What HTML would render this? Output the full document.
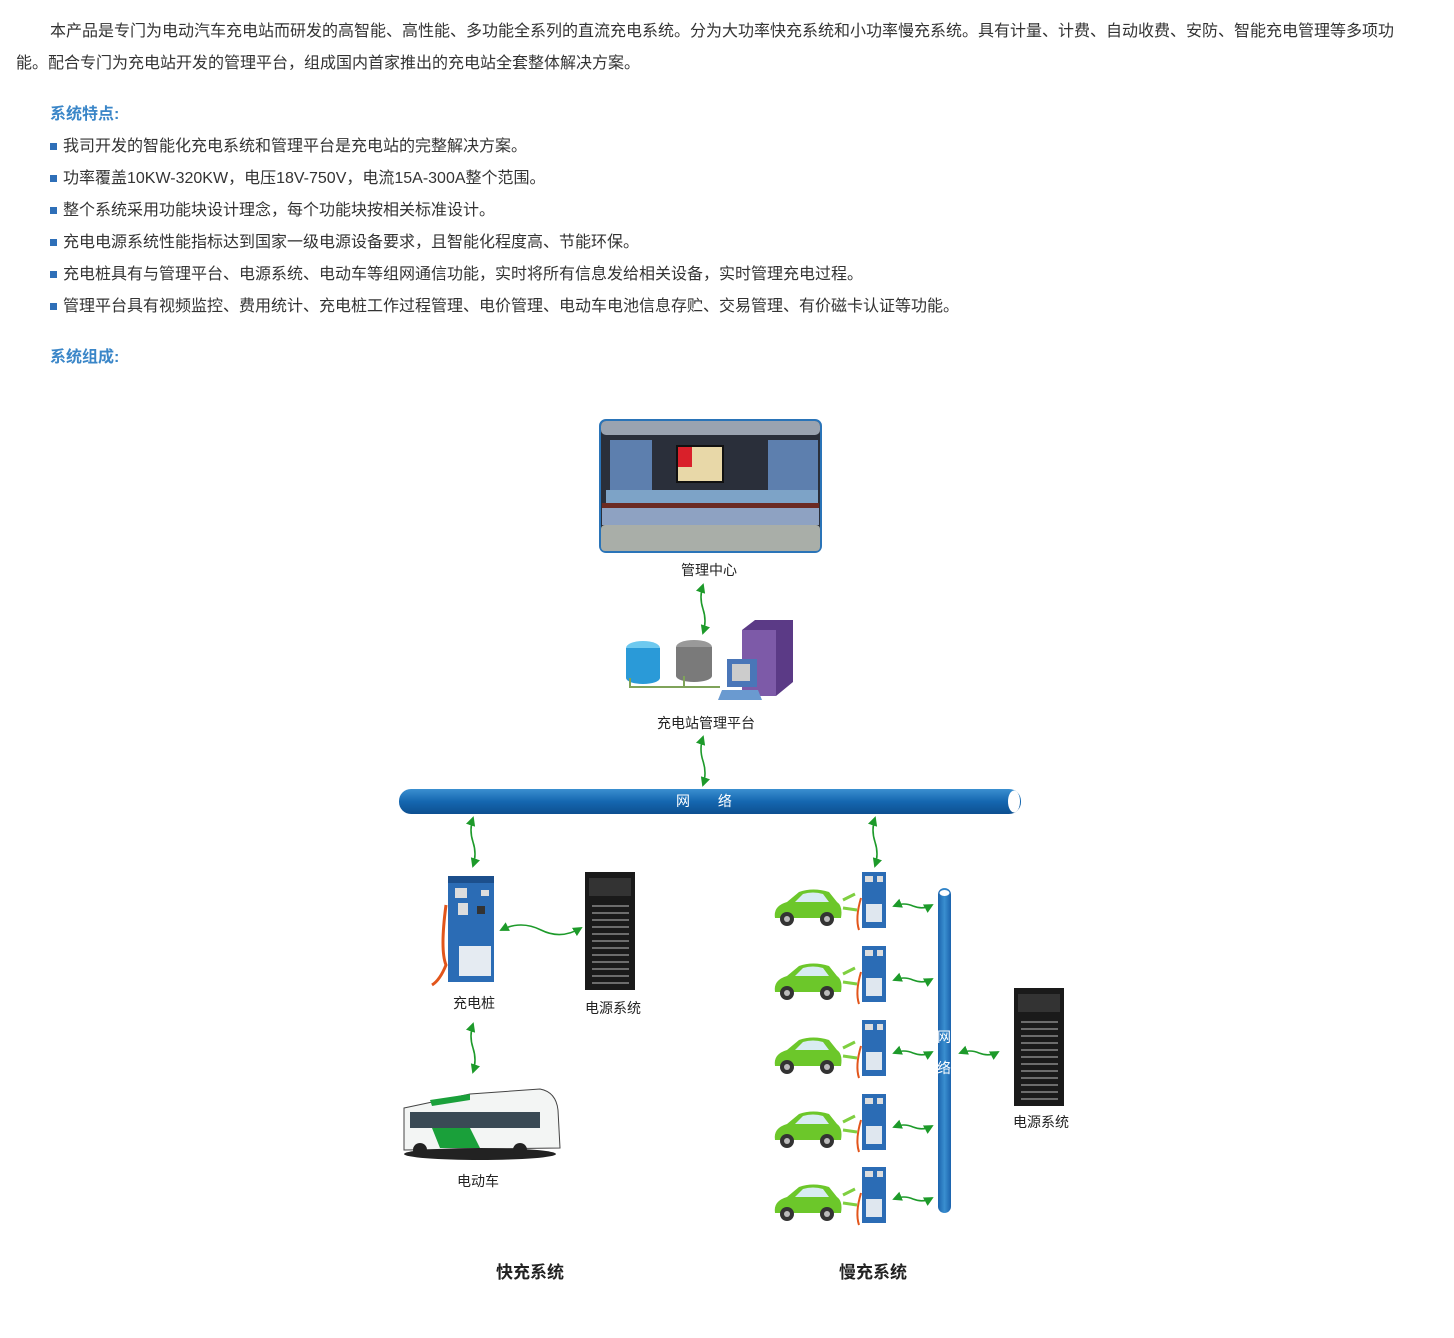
<!DOCTYPE html>
<html><head><meta charset="utf-8"><style>
body{margin:0;width:1454px;height:1338px;background:#fff;position:relative;overflow:hidden;font-family:"Liberation Sans","Noto Sans CJK SC",sans-serif;color:#333;font-size:16px}
.t{position:absolute;white-space:nowrap;line-height:20px}
.h{color:#3a86c8;font-weight:bold;font-size:16px}
.b:before{content:"";display:inline-block;width:7px;height:7px;background:#2e6fb8;margin-right:6px;vertical-align:1px}
svg{position:absolute;left:0;top:0}
</style></head><body>
<div class="t" style="left:50px;top:22px">本产品是专门为电动汽车充电站而研发的高智能、高性能、多功能全系列的直流充电系统。分为大功率快充系统和小功率慢充系统。具有计量、计费、自动收费、安防、智能充电管理等多项功</div>
<div class="t" style="left:16px;top:54px">能。配合专门为充电站开发的管理平台，组成国内首家推出的充电站全套整体解决方案。</div>
<div class="t h" style="left:50px;top:105px">系统特点:</div>
<div class="t b" style="left:50px;top:137px">我司开发的智能化充电系统和管理平台是充电站的完整解决方案。</div>
<div class="t b" style="left:50px;top:169px">功率覆盖10KW-320KW，电压18V-750V，电流15A-300A整个范围。</div>
<div class="t b" style="left:50px;top:201px">整个系统采用功能块设计理念，每个功能块按相关标准设计。</div>
<div class="t b" style="left:50px;top:233px">充电电源系统性能指标达到国家一级电源设备要求，且智能化程度高、节能环保。</div>
<div class="t b" style="left:50px;top:265px">充电桩具有与管理平台、电源系统、电动车等组网通信功能，实时将所有信息发给相关设备，实时管理充电过程。</div>
<div class="t b" style="left:50px;top:297px">管理平台具有视频监控、费用统计、充电桩工作过程管理、电价管理、电动车电池信息存贮、交易管理、有价磁卡认证等功能。</div>
<div class="t h" style="left:50px;top:348px">系统组成:</div>

<svg width="1454" height="1338" viewBox="0 0 1454 1338" font-family="Liberation Sans,Noto Sans CJK SC,sans-serif">
<defs>
<linearGradient id="pipe" x1="0" y1="0" x2="0" y2="1"><stop offset="0" stop-color="#3a8fd0"/><stop offset="0.5" stop-color="#1567b0"/><stop offset="1" stop-color="#0d4f90"/></linearGradient>
<linearGradient id="vpipe" x1="0" y1="0" x2="1" y2="0"><stop offset="0" stop-color="#1b63ad"/><stop offset="0.5" stop-color="#3a8fd0"/><stop offset="1" stop-color="#1b63ad"/></linearGradient>
<marker id="ah" viewBox="0 0 10 10" refX="8" refY="5" markerWidth="6" markerHeight="6" orient="auto-start-reverse"><path d="M0,0L10,5L0,10z" fill="#1d9a2a"/></marker>
<g id="cab">
<rect x="0" y="0" width="50" height="118" fill="#1a1a1a"/>
<rect x="4" y="6" width="42" height="18" fill="#333"/>
<g stroke="#888" stroke-width="1.5"><line x1="7" y1="34" x2="44" y2="34"/><line x1="7" y1="41" x2="44" y2="41"/><line x1="7" y1="48" x2="44" y2="48"/><line x1="7" y1="55" x2="44" y2="55"/><line x1="7" y1="62" x2="44" y2="62"/><line x1="7" y1="69" x2="44" y2="69"/><line x1="7" y1="76" x2="44" y2="76"/><line x1="7" y1="83" x2="44" y2="83"/><line x1="7" y1="90" x2="44" y2="90"/><line x1="7" y1="97" x2="44" y2="97"/><line x1="7" y1="104" x2="44" y2="104"/><line x1="7" y1="111" x2="44" y2="111"/></g>
</g>
<g id="car">
<path d="M2,30 Q0,18 14,14 L26,4 Q40,-1 56,4 L64,14 Q70,18 68,30 Z" fill="#6cc72a"/>
<path d="M22,14 L30,6 Q40,3 50,6 L56,14Z" fill="#d8ecf2"/>
<circle cx="14" cy="31" r="7" fill="#333"/><circle cx="14" cy="31" r="3" fill="#bbb"/>
<circle cx="54" cy="31" r="7" fill="#333"/><circle cx="54" cy="31" r="3" fill="#bbb"/>
<path d="M70,12 l12,-6 M70,20 l14,2" stroke="#7fcf40" stroke-width="3"/>
<rect x="89" y="-16" width="24" height="56" fill="#2b6cb5"/>
<rect x="92" y="-12" width="8" height="6" fill="#ddd"/><rect x="104" y="-12" width="6" height="6" fill="#ddd"/>
<rect x="93" y="16" width="16" height="18" fill="#dfe7ef"/>
<path d="M88,10 Q82,30 86,42" stroke="#e2551b" stroke-width="2" fill="none"/>
</g>
</defs>

<rect x="600" y="420" width="221" height="132" rx="6" fill="#2a2f3a" stroke="#2a74b8" stroke-width="2"/>
<rect x="601" y="421" width="219" height="14" rx="5" fill="#9aa3b0"/>
<rect x="610" y="440" width="42" height="56" fill="#5d7fae"/>
<rect x="768" y="440" width="50" height="56" fill="#5d7fae"/>
<rect x="677" y="446" width="46" height="36" fill="#e8d8a8" stroke="#111" stroke-width="2"/>
<rect x="678" y="447" width="14" height="20" fill="#d9202a"/>
<rect x="606" y="490" width="212" height="13" fill="#7da3c7"/>
<rect x="602" y="503" width="217" height="5" fill="#6b2a22"/>
<rect x="602" y="508" width="217" height="17" fill="#8ea2c2"/>
<rect x="601" y="525" width="219" height="26" rx="4" fill="#a9aea8"/>
<text x="709" y="575" font-size="14" text-anchor="middle" fill="#222">管理中心</text>

<ellipse cx="643" cy="648" rx="17" ry="7" fill="#6ec9ef"/>
<rect x="626" y="648" width="34" height="30" fill="#2a9ad8"/>
<ellipse cx="643" cy="678" rx="17" ry="6" fill="#2a9ad8"/>
<ellipse cx="694" cy="647" rx="18" ry="7" fill="#999"/>
<rect x="676" y="647" width="36" height="29" fill="#7a7a7a"/>
<ellipse cx="694" cy="676" rx="18" ry="6" fill="#7a7a7a"/>
<polygon points="742,630 755,620 793,620 793,682 776,696 742,696" fill="#5b3a86"/>
<rect x="742" y="630" width="34" height="66" fill="#7d5aa8"/>
<rect x="727" y="659" width="30" height="28" fill="#4a76b8"/>
<rect x="732" y="664" width="18" height="17" fill="#ccc"/>
<polygon points="718,700 762,700 758,690 722,690" fill="#6a9ad0"/>
<polyline points="630,678 630,687 720,687" stroke="#7fa35a" stroke-width="2" fill="none"/>
<line x1="684" y1="676" x2="684" y2="687" stroke="#7fa35a" stroke-width="2"/>
<text x="706" y="728" font-size="14" text-anchor="middle" fill="#222">充电站管理平台</text>

<g stroke="#1d9a2a" stroke-width="1.6" fill="none" marker-start="url(#ah)" marker-end="url(#ah)">
<path d="M703,585 q-4,12 0,24 q4,12 0,24"/>
<path d="M703,737 q-4,12 0,24 q4,12 0,24"/>
<path d="M473,818 q-4,12 0,24 q4,12 0,24"/>
<path d="M875,818 q-4,12 0,24 q4,12 0,24"/>
<path d="M473,1024 q-4,12 0,24 q4,12 0,24"/>
<path d="M501,930 q20,-10 40,0 q20,10 40,-2"/>
<path d="M894,906 q10,-4 19,0 q10,4 19,-1"/>
<path d="M894,980 q10,-4 19,0 q10,4 19,-1"/>
<path d="M894,1053 q10,-4 19,0 q10,4 19,-1"/>
<path d="M894,1127 q10,-4 19,0 q10,4 19,-1"/>
<path d="M894,1199 q10,-4 19,0 q10,4 19,-1"/>
<path d="M960,1053 q10,-4 19,0 q10,4 19,-1"/>
</g>

<rect x="399" y="789" width="622" height="25" rx="12" fill="url(#pipe)"/>
<ellipse cx="1014" cy="801.5" rx="6" ry="11" fill="#fff"/>
<text x="710" y="806" font-size="14" text-anchor="middle" fill="#fff" letter-spacing="12">网 络</text>

<rect x="448" y="876" width="46" height="106" fill="#2b6cb5"/>
<rect x="448" y="876" width="46" height="7" fill="#1c4f8c"/>
<rect x="455" y="888" width="12" height="10" fill="#ddd"/><rect x="481" y="890" width="8" height="6" fill="#ddd"/>
<rect x="458" y="903" width="10" height="12" fill="#ddd"/><rect x="477" y="906" width="8" height="8" fill="#333"/>
<rect x="459" y="946" width="32" height="30" fill="#e5ebf2"/>
<path d="M446,905 Q440,950 446,965 Q440,980 432,985" stroke="#e2551b" stroke-width="3" fill="none"/>
<text x="474" y="1008" font-size="14" text-anchor="middle" fill="#222">充电桩</text>
<use href="#cab" x="585" y="872"/>
<text x="613" y="1013" font-size="14" text-anchor="middle" fill="#222">电源系统</text>

<path d="M404,1108 L470,1094 L540,1089 Q556,1092 558,1110 L560,1148 L404,1150 Z" fill="#f3f5f4" stroke="#444"/>
<rect x="410" y="1112" width="130" height="16" fill="#3a4a55"/>
<path d="M432,1128 L470,1128 L480,1148 L440,1148 Z" fill="#1aa03a"/>
<path d="M430,1100 L470,1094 L470,1100 L432,1106Z" fill="#1aa03a"/>
<ellipse cx="480" cy="1154" rx="76" ry="6" fill="#222"/>
<circle cx="420" cy="1150" r="7" fill="#222"/><circle cx="520" cy="1150" r="7" fill="#222"/>
<text x="478" y="1186" font-size="14" text-anchor="middle" fill="#222">电动车</text>

<use href="#car" x="773" y="888"/>
<use href="#car" x="773" y="962"/>
<use href="#car" x="773" y="1036"/>
<use href="#car" x="773" y="1110"/>
<use href="#car" x="773" y="1183"/>
<rect x="938" y="888" width="13" height="325" rx="6.5" fill="url(#vpipe)"/>
<ellipse cx="944.5" cy="893" rx="5" ry="3" fill="#fff"/>
<text x="944" y="1042" font-size="14" text-anchor="middle" fill="#fff">网</text>
<text x="944" y="1073" font-size="14" text-anchor="middle" fill="#fff">络</text>
<use href="#cab" x="1014" y="988"/>
<text x="1041" y="1127" font-size="14" text-anchor="middle" fill="#222">电源系统</text>

<text x="530" y="1278" font-size="17" font-weight="bold" text-anchor="middle" fill="#222">快充系统</text>
<text x="873" y="1278" font-size="17" font-weight="bold" text-anchor="middle" fill="#222">慢充系统</text>
</svg>
</body></html>
